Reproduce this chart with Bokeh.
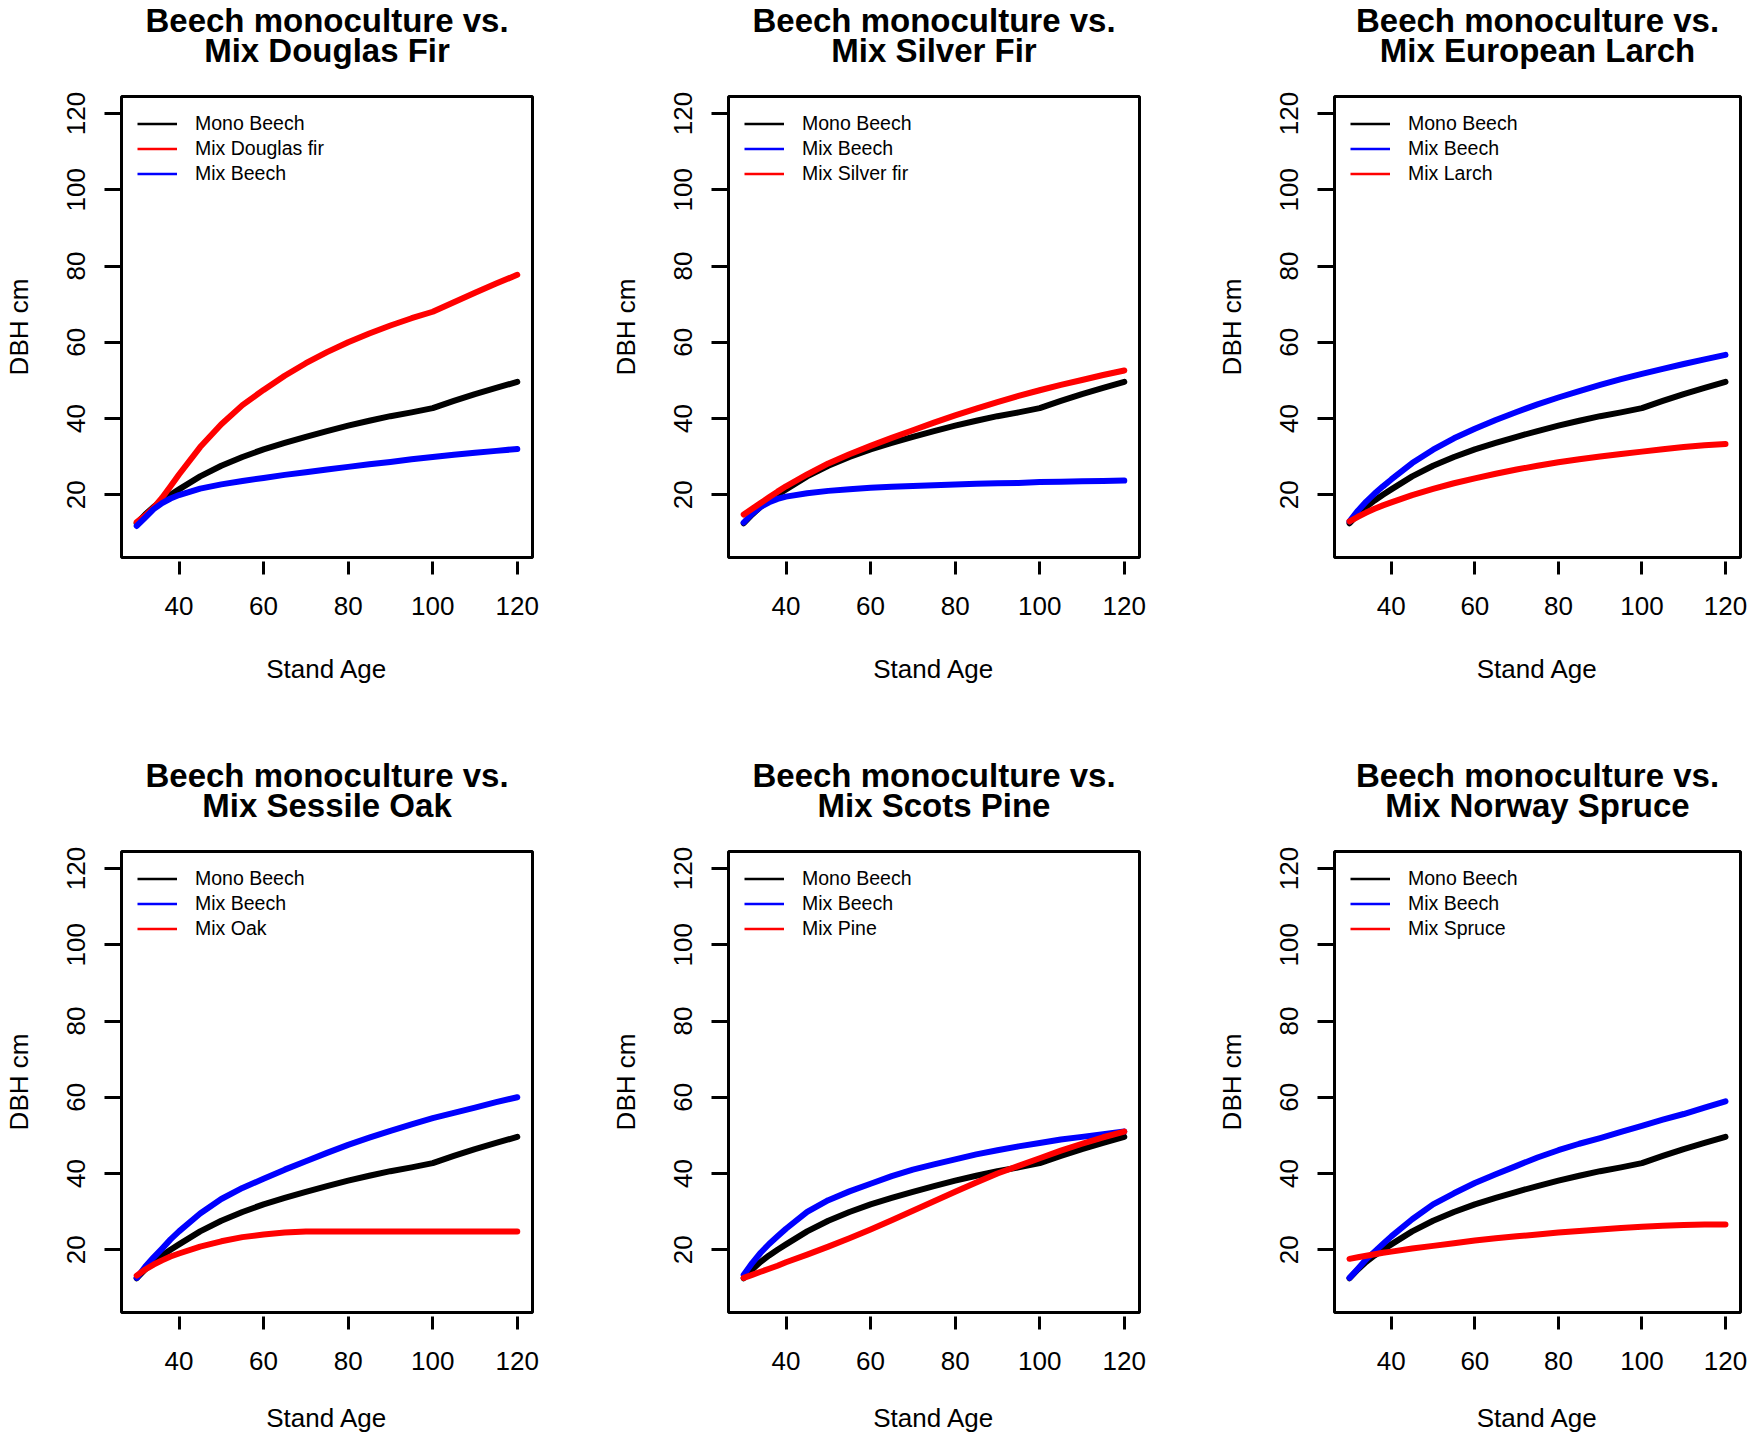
from bokeh.plotting import figure
from bokeh.layouts import row, column
from bokeh.models import Range1d, FixedTicker, Legend, LegendItem, Title
from bokeh.embed import file_html
from bokeh.resources import INLINE

# ---------------- data ----------------
age = [30, 32, 34, 36, 38, 40, 45, 50, 55, 60, 65, 70, 75, 80, 85, 90, 95, 100, 105, 110, 115, 120]

mono_beech = [12.5, 14.8, 16.8, 18.5, 20.0, 21.4, 24.8, 27.6, 29.9, 31.9, 33.6, 35.2, 36.7, 38.1,
              39.4, 40.6, 41.6, 42.7, 44.6, 46.4, 48.0, 49.6]

douglas_mix_fir = [12.8, 14.5, 16.6, 19.2, 22.2, 25.3, 32.5, 38.5, 43.5, 47.5, 51.2, 54.5, 57.4, 60.0,
                   62.3, 64.4, 66.3, 68.0, 70.5, 73.0, 75.4, 77.7]
douglas_mix_beech = [11.8, 14.0, 16.2, 17.8, 19.0, 19.9, 21.6, 22.7, 23.6, 24.4, 25.2, 25.9, 26.6, 27.3,
                     28.0, 28.6, 29.3, 29.9, 30.5, 31.0, 31.5, 32.0]

silver_mix_beech = [12.7, 15.0, 16.8, 18.0, 18.9, 19.5, 20.4, 21.0, 21.4, 21.8, 22.1, 22.3, 22.5, 22.7,
                    22.9, 23.0, 23.1, 23.3, 23.4, 23.5, 23.6, 23.7]
silver_mix_fir = [14.8, 16.3, 17.8, 19.3, 20.8, 22.2, 25.3, 28.2, 30.6, 32.8, 34.9, 36.9, 38.9, 40.8,
                  42.6, 44.3, 45.9, 47.4, 48.8, 50.1, 51.4, 52.6]

larch_mix_beech = [13.0, 15.8, 18.2, 20.3, 22.2, 24.0, 28.3, 31.8, 34.8, 37.3, 39.6, 41.7, 43.7, 45.5,
                   47.2, 48.8, 50.3, 51.7, 53.0, 54.3, 55.5, 56.7]
larch_mix_larch = [13.0, 14.2, 15.3, 16.3, 17.2, 18.0, 19.9, 21.5, 23.0, 24.3, 25.5, 26.6, 27.6, 28.5,
                   29.3, 30.0, 30.7, 31.3, 31.9, 32.5, 33.0, 33.3]

oak_mix_beech = [12.6, 15.5, 18.0, 20.3, 22.7, 24.8, 29.5, 33.3, 36.2, 38.6, 41.0, 43.2, 45.4, 47.5,
                 49.4, 51.2, 52.9, 54.5, 55.9, 57.3, 58.7, 60.0]
oak_mix_oak = [13.2, 14.8, 16.1, 17.2, 18.2, 19.0, 20.8, 22.2, 23.3, 24.0, 24.5, 24.8, 24.8, 24.8,
               24.8, 24.8, 24.8, 24.8, 24.8, 24.8, 24.8, 24.8]

pine_mix_beech = [13.4, 16.5, 19.2, 21.5, 23.5, 25.5, 29.9, 33.0, 35.3, 37.3, 39.3, 41.0, 42.4, 43.7,
                  45.0, 46.1, 47.1, 48.0, 48.9, 49.6, 50.3, 51.0]
pine_mix_pine = [12.6, 13.4, 14.2, 15.0, 15.8, 16.7, 18.7, 20.8, 23.0, 25.3, 27.7, 30.2, 32.7, 35.2,
                 37.6, 40.0, 42.0, 44.0, 46.0, 47.8, 49.5, 51.0]

spruce_mix_beech = [12.6, 15.0, 17.5, 19.5, 21.5, 23.5, 28.0, 31.9, 34.8, 37.5, 39.8, 42.0, 44.2, 46.1,
                    47.8, 49.3, 50.9, 52.5, 54.1, 55.6, 57.3, 58.9]
spruce_mix_spruce = [17.6, 18.0, 18.4, 18.8, 19.2, 19.5, 20.3, 21.0, 21.7, 22.4, 23.0, 23.5, 24.0, 24.5,
                     24.9, 25.3, 25.7, 26.0, 26.3, 26.5, 26.6, 26.6]

x_ticks = [40, 60, 80, 100, 120]
y_ticks = [20, 40, 60, 80, 100, 120]
x_lim = (30, 120)
y_lim = (8, 120)

title_line1 = "Beech monoculture vs."
titles = ["Mix Douglas Fir", "Mix Silver Fir", "Mix European Larch",
          "Mix Sessile Oak", "Mix Scots Pine", "Mix Norway Spruce"]

panel_series = [
    [("Mono Beech", mono_beech, "black"), ("Mix Douglas fir", douglas_mix_fir, "red"),
     ("Mix Beech", douglas_mix_beech, "blue")],
    [("Mono Beech", mono_beech, "black"), ("Mix Beech", silver_mix_beech, "blue"),
     ("Mix Silver fir", silver_mix_fir, "red")],
    [("Mono Beech", mono_beech, "black"), ("Mix Beech", larch_mix_beech, "blue"),
     ("Mix Larch", larch_mix_larch, "red")],
    [("Mono Beech", mono_beech, "black"), ("Mix Beech", oak_mix_beech, "blue"),
     ("Mix Oak", oak_mix_oak, "red")],
    [("Mono Beech", mono_beech, "black"), ("Mix Beech", pine_mix_beech, "blue"),
     ("Mix Pine", pine_mix_pine, "red")],
    [("Mono Beech", mono_beech, "black"), ("Mix Beech", spruce_mix_beech, "blue"),
     ("Mix Spruce", spruce_mix_spruce, "red")],
]

FONT = "Liberation Sans"


def pad(lo, hi):
    d = (hi - lo) * 0.04
    return lo - d, hi + d


def make_panel(idx, width, height, bl, br, bt, bb, xlab_standoff):
    x0, x1 = pad(*x_lim)
    y0, y1 = pad(*y_lim)
    p = figure(width=width, height=height, x_range=Range1d(x0, x1), y_range=Range1d(y0, y1),
               output_backend="svg", toolbar_location=None, title_location=None,
               min_border_left=bl, min_border_right=br, min_border_top=bt, min_border_bottom=bb)
    p.grid.visible = False
    p.outline_line_color = "black"
    p.outline_line_width = 3
    p.outline_line_alpha = 1.0
    p.background_fill_color = "white"
    p.border_fill_color = "white"

    # two-line title (first added sits next to the frame)
    p.add_layout(Title(text=titles[idx], align="center", text_font=FONT, text_font_size="33px",
                       text_font_style="bold", text_color="black", standoff=56), "above")
    p.add_layout(Title(text=title_line1, align="center", text_font=FONT, text_font_size="33px",
                       text_font_style="bold", text_color="black", standoff=-74), "above")

    for ax in (p.xaxis[0], p.yaxis[0]):
        ax.axis_line_color = None
        ax.major_tick_line_color = "black"
        ax.major_tick_line_width = 3
        ax.minor_tick_line_color = None
        ax.major_label_text_font = FONT
        ax.major_label_text_font_size = "26px"
        ax.major_label_text_color = "black"
        ax.axis_label_text_font = FONT
        ax.axis_label_text_font_size = "26px"
        ax.axis_label_text_font_style = "normal"
        ax.axis_label_text_color = "black"

    xa = p.xaxis[0]
    xa.ticker = FixedTicker(ticks=x_ticks)
    xa.major_tick_in = -4
    xa.major_tick_out = 17
    xa.major_label_standoff = 22
    xa.axis_label = "Stand Age"
    xa.axis_label_standoff = xlab_standoff

    ya = p.yaxis[0]
    ya.ticker = FixedTicker(ticks=y_ticks)
    ya.major_tick_in = 0
    ya.major_tick_out = 17
    ya.major_label_orientation = "vertical"
    ya.major_label_standoff = 19
    ya.axis_label = "DBH cm"
    ya.axis_label_standoff = 31

    items = []
    for name, vals, col in panel_series[idx]:
        # thin copy (hidden under the thick curve) used as the legend key
        proxy = p.line(age, vals, line_color=col, line_width=2.5)
        p.line(age, vals, line_color=col, line_width=6, line_cap="round", line_join="round")
        items.append(LegendItem(label=name, renderers=[proxy]))

    leg = Legend(items=items, location="top_left", border_line_color=None,
                 background_fill_alpha=0.0, label_text_font=FONT, label_text_font_size="19.5px",
                 label_text_color="black", glyph_width=40, glyph_height=21, label_height=21,
                 spacing=2, padding=0, margin=16, label_standoff=18)
    p.add_layout(leg)
    return p


# widths: col1 0-602, col2 602-1209, col3 1209-1749 ; heights: row1 0-755, row2 755-1436
p1 = make_panel(0, 602, 755, 121, 70, 96, 198, 36)
p2 = make_panel(1, 607, 755, 126, 70, 96, 198, 36)
p3 = make_panel(2, 540, 755, 125, 9, 96, 198, 36)
p4 = make_panel(3, 602, 681, 121, 70, 96, 124, 30)
p5 = make_panel(4, 607, 681, 126, 70, 96, 124, 30)
p6 = make_panel(5, 540, 681, 125, 9, 96, 124, 30)

layout = column(row(p1, p2, p3), row(p4, p5, p6))

open("out.html", "w").write(file_html(layout, INLINE))
